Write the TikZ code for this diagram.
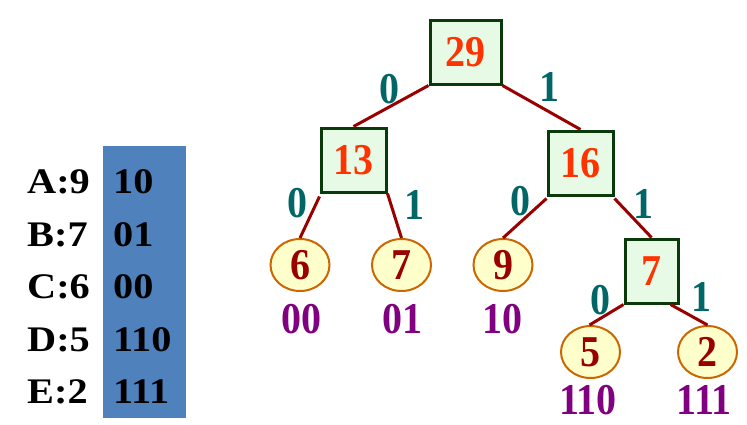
\documentclass[tikz,border=0pt]{standalone}
\usepackage{fontspec}
\usepackage{graphicx}
\setmainfont{Liberation Serif}
\usetikzlibrary{shapes.geometric}
\definecolor{sumfill}{HTML}{E6FAE6}
\definecolor{sumline}{HTML}{0A3A0A}
\definecolor{sumtext}{HTML}{FF3300}
\definecolor{leaffill}{HTML}{FFFFCC}
\definecolor{leafline}{HTML}{CC6600}
\definecolor{leaftext}{HTML}{990000}
\definecolor{edgecol}{HTML}{990000}
\definecolor{bittext}{HTML}{006666}
\definecolor{codetext}{HTML}{800080}
\definecolor{tabblue}{HTML}{4F81BD}
% stretched text, as in the slide
\newcommand\wide[1]{\scalebox{1.12}[1]{#1}}
\newcommand\tall[1]{\scalebox{1}[1.1]{#1}}
\begin{document}
\begin{tikzpicture}[x=1pt,y=-1pt,font=\fontsize{40}{48}\selectfont\bfseries,
sum/.style={draw=sumline,fill=sumfill,line width=3pt,text=sumtext,inner sep=0pt,minimum width=65pt,minimum height=64pt},
leaf/.style={ellipse,draw=leafline,fill=leaffill,line width=2pt,text=leaftext,inner sep=0pt,minimum width=59pt,minimum height=52pt},
bit/.style={text=bittext,inner sep=0pt},
code/.style={text=codetext,inner sep=0pt},
edge/.style={draw=edgecol,line width=3pt}]
\useasboundingbox (0,0) rectangle (747,424);
% code table
\fill[tabblue] (103,146) rectangle (186,418);
\foreach \y/\sym/\cd [count=\i] in {193/A:9/10,246/B:7/01,298/C:6/00,351/D:5/110,403/E:2/111}{
\node[anchor=base west,inner sep=0pt,font=\fontsize{36}{44}\selectfont\bfseries] (s\i) at (27,\y) {\wide{\sym}};
\node[anchor=base west,inner sep=0pt,font=\fontsize{36}{44}\selectfont\bfseries] (k\i) at (113,\y) {\wide{\cd}};
}
% tree
\node[sum,minimum width=71pt] (r) at (465.5,52) {\tall{29}};
\node[sum] (a) at (353.5,160) {\tall{13}};
\node[sum] (b) at (580.5,163) {\tall{16}};
\node[leaf] (l6) at (300,265) {\tall{6}};
\node[leaf] (l7) at (401.5,265) {\tall{7}};
\node[leaf] (l9) at (503,265) {\tall{9}};
\node[sum,minimum width=53pt] (c) at (651.5,271) {\tall{7}};
\node[leaf] (l5) at (590.5,352) {\tall{5}};
\node[leaf] (l2) at (707.5,352) {\tall{2}};
\draw[edge] (r.south west) -- (a.north);
\draw[edge] (r.south east) -- (b.north);
\draw[edge] ([yshift=-3pt]a.south west) -- (l6.north);
\draw[edge] (a.south east) -- (l7.north);
\draw[edge] ([yshift=-2pt]b.south west) -- (l9.north);
\draw[edge] ([yshift=-2pt]b.south east) -- (c.north);
\draw[edge] (c.south west) -- ([xshift=-1pt]l5.north);
\draw[edge] ([xshift=-9pt]c.south east) -- (l2.north);
% bits
\node[bit] (b1) at (389,89) {\tall{0}};
\node[bit] (b2) at (549,87) {\tall{1}};
\node[bit] (b3) at (297,203) {\tall{0}};
\node[bit] (b4) at (414,205) {\tall{1}};
\node[bit] (b5) at (520,201) {\tall{0}};
\node[bit] (b6) at (643,204) {\tall{1}};
\node[bit] (b7) at (600,300) {\tall{0}};
\node[bit] (b8) at (701,297) {\tall{1}};
% codes
\node[code] (c6) at (301,319) {\tall{00}};
\node[code] (c7) at (402,319) {\tall{01}};
\node[code] (c9) at (502,319) {\tall{10}};
\node[code] (c5) at (588,400) {\tall{110}};
\node[code] (c2) at (704,400) {\tall{111}};
\end{tikzpicture}
\end{document}
